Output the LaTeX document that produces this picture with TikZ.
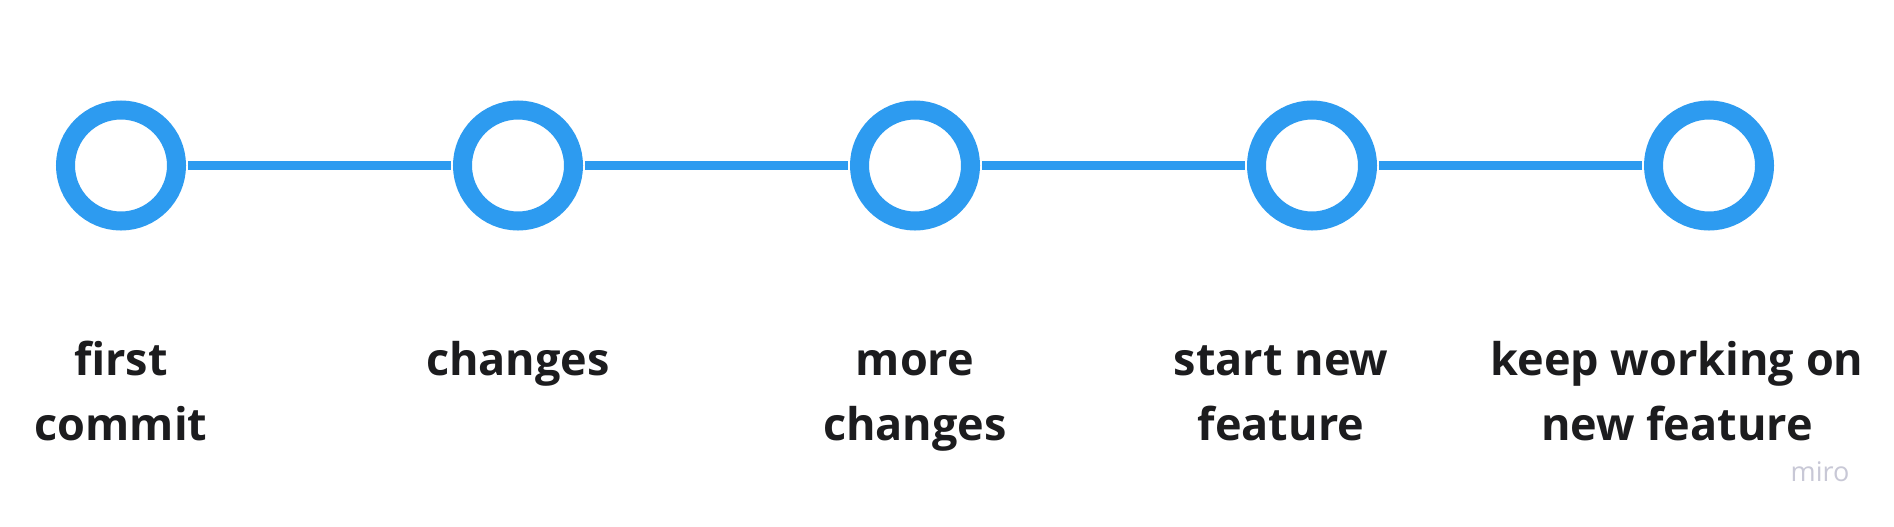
\documentclass[tikz,border=0pt]{standalone}
\usepackage{fontspec}
\setmainfont{Open Sans}
\usepackage{xcolor}
\usepackage{tikz}
\usetikzlibrary{positioning}
\definecolor{miro-blue}{RGB}{45, 155, 240}
\definecolor{miro-ink}{RGB}{28, 28, 30}
\definecolor{miro-grey}{RGB}{200, 200, 214}

\begin{document}
\begin{tikzpicture}[x=1pt, y=1pt,
        commit/.style={circle, draw=miro-blue, line width=19pt, fill=white,
                       minimum size=111pt, inner sep=0pt},
        lbl/.style={anchor=base, align=center, inner sep=0pt, text=miro-ink,
                    font=\fontsize{45}{65}\selectfont\bfseries},
        link/.style={draw=miro-blue, line width=8.3pt, shorten <=2pt, shorten >=2pt}
      ]
        \useasboundingbox[fill=white] (0,0) rectangle (1894,-527);
        \node[commit] (c1) at (121,-165.5) {};
        \node[commit, right=267pt of c1] (c2) {};
        \node[commit, right=267pt of c2] (c3) {};
        \node[commit, right=267pt of c3] (c4) {};
        \node[commit, right=267pt of c4] (c5) {};
        \draw[link] (c1) -- (c2);
        \draw[link] (c2) -- (c3);
        \draw[link] (c3) -- (c4);
        \draw[link] (c4) -- (c5);
        % labels under the commits (base = last line)
        \node[lbl] (l1) at (121,-440) {first\\commit};
        \node[lbl] (l2) at (518,-375) {changes};
        \node[lbl] (l3) at (915,-440) {more\\changes};
        \node[lbl] (l4) at (1281,-440) {start new\\feature};
        \node[lbl] (l5) at (1677,-440) {keep working on\\new feature};
        \node[anchor=base, inner sep=0pt, text=miro-grey,
              font=\fontsize{27}{32}\selectfont] (mark) at (1820,-481.5) {miro};
      \end{tikzpicture}
\end{document}
